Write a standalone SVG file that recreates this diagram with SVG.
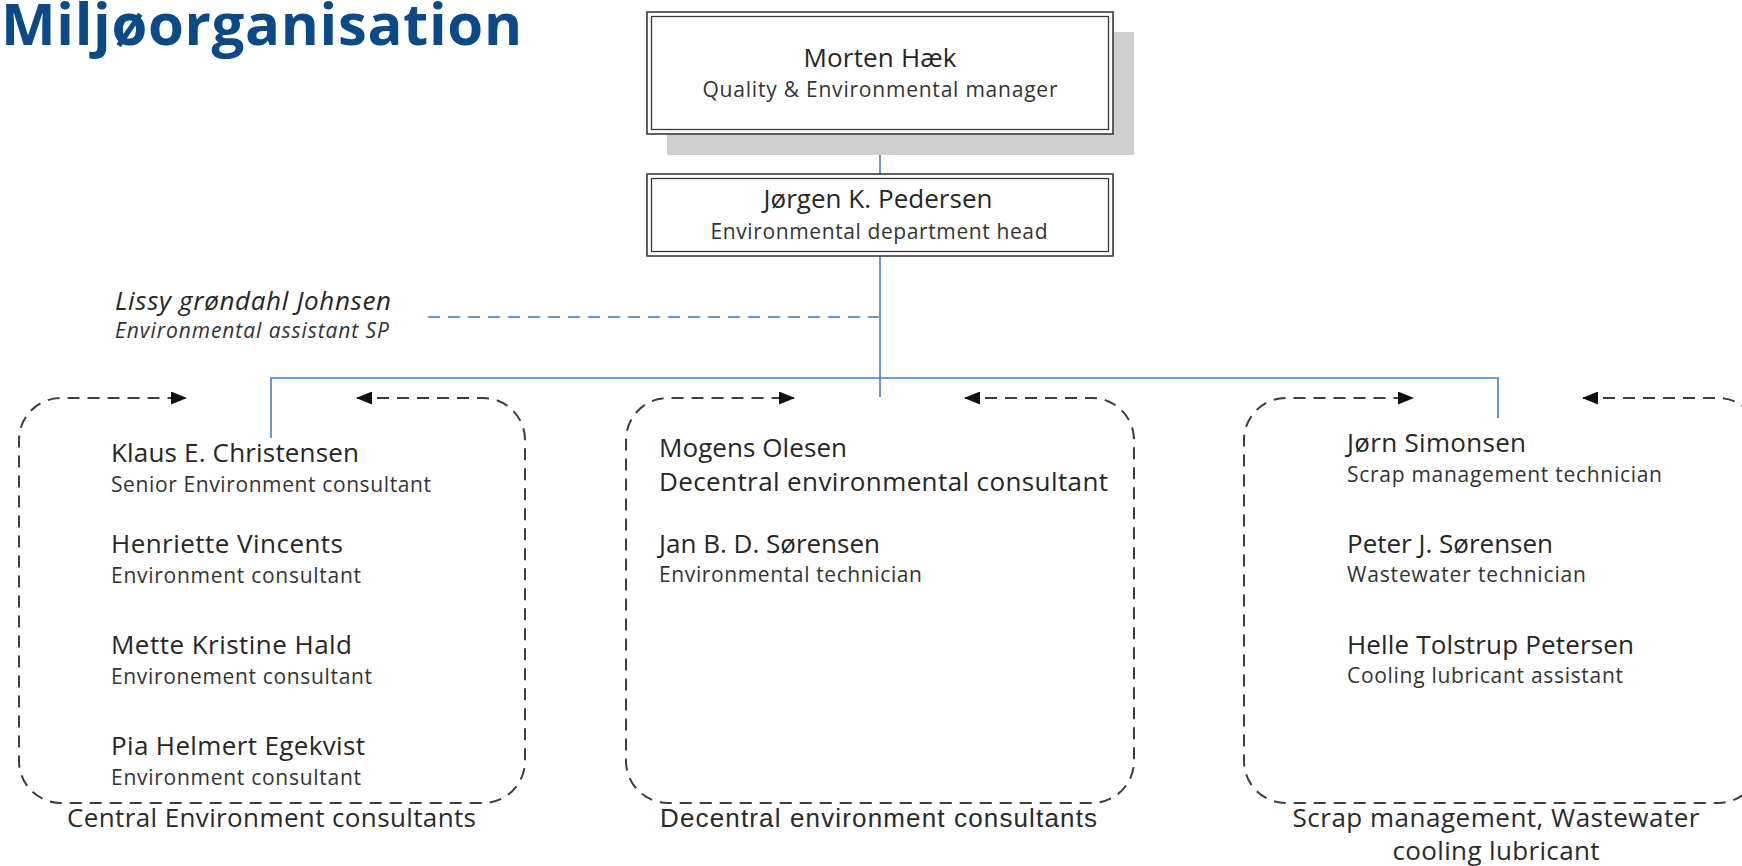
<svg xmlns="http://www.w3.org/2000/svg" width="1742" height="866" viewBox="0 0 1742 866">
<style>
text{font-family:"Open Sans","Noto Sans","Liberation Sans",sans-serif;fill:#262626}
.title{font-weight:bold;font-size:58px;fill:#0b4a87}
.nm{font-size:26px}
.rl{font-size:21px;fill:#333}
.it{font-style:italic}
.grp{font-size:26px;fill:#2a2a2a}
.arial{font-family:"Liberation Sans",Arial,sans-serif}
.frame{fill:#fff;stroke:#3a3a3a;stroke-width:1.6}
.inner{fill:none;stroke:#3a3a3a;stroke-width:1.3}
.dbox{fill:none;stroke:#3d3d3d;stroke-width:2;stroke-dasharray:12 8;marker-start:url(#ah);marker-end:url(#ah)}
.blue{fill:none;stroke:#4a7ebb;stroke-width:1.6}
.bdash{fill:none;stroke:#7098d0;stroke-width:2;stroke-dasharray:12 8}
</style>
<defs>
<marker id="ah" viewBox="0 0 16 13" refX="15" refY="6.5" markerWidth="16" markerHeight="13" markerUnits="userSpaceOnUse" orient="auto-start-reverse">
<path d="M0,0 L16,6.5 L0,13 z" fill="#111"/>
</marker>
</defs>
<rect width="1742" height="866" fill="#fff"/>
<text class="title" x="1" y="45" textLength="521">Miljøorganisation</text>

<g id="connectors">
<path class="blue" d="M880,134 V174"/>
<path class="blue" d="M880,256 V397"/>
<path class="blue" d="M271,438 V378 H1498 V418"/>
<path class="bdash" d="M428,317 H879"/>
</g>

<g id="morten">
<rect x="667" y="32" width="467" height="123" fill="#cfcfcf"/>
<rect class="frame" x="647" y="12" width="466" height="122"/>
<rect class="inner" x="651.5" y="16.5" width="457" height="113"/>
<text class="nm" x="880" y="67" text-anchor="middle" textLength="153">Morten Hæk</text>
<text class="rl" x="880" y="97" text-anchor="middle" textLength="355">Quality &amp; Environmental manager</text>
</g>

<g id="jorgen">
<rect class="frame" x="647" y="174" width="466" height="82"/>
<rect class="inner" x="651.5" y="178.5" width="457" height="73"/>
<text class="nm" x="878" y="208" text-anchor="middle" textLength="229">Jørgen K. Pedersen</text>
<text class="rl" x="879" y="239" text-anchor="middle" textLength="337">Environmental department head</text>
</g>

<g id="lissy">
<text class="nm it" x="115" y="310" textLength="276">Lissy grøndahl Johnsen</text>
<text class="rl it" x="115" y="338" textLength="274">Environmental assistant SP</text>
</g>

<g id="central">
<path class="dbox" d="M357,398 H483 A42,42 0 0 1 525,440 V761 A42,42 0 0 1 483,803 H61 A42,42 0 0 1 19,761 V440 A42,42 0 0 1 61,398 H186"/>
<text class="nm" x="111" y="462" textLength="248">Klaus E. Christensen</text>
<text class="rl" x="111" y="492" textLength="320">Senior Environment consultant</text>
<text class="nm" x="111" y="553" textLength="232">Henriette Vincents</text>
<text class="rl" x="111" y="583" textLength="250">Environment consultant</text>
<text class="nm" x="111" y="654" textLength="241">Mette Kristine Hald</text>
<text class="rl" x="111" y="684" textLength="261">Environement consultant</text>
<text class="nm" x="111" y="755" textLength="254">Pia Helmert Egekvist</text>
<text class="rl" x="111" y="785" textLength="250">Environment consultant</text>
<text class="grp" x="67" y="827" textLength="409">Central Environment consultants</text>
</g>

<g id="decentral">
<path class="dbox" d="M965,398 H1092 A42,42 0 0 1 1134,440 V761 A42,42 0 0 1 1092,803 H668 A42,42 0 0 1 626,761 V440 A42,42 0 0 1 668,398 H794"/>
<text class="nm" x="659" y="457" textLength="188">Mogens Olesen</text>
<text class="nm" x="659" y="491" textLength="449">Decentral environmental consultant</text>
<text class="nm" x="659" y="553" textLength="221">Jan B. D. Sørensen</text>
<text class="rl" x="659" y="582" textLength="263">Environmental technician</text>
<text class="grp arial" x="660" y="827" textLength="437">Decentral environment consultants</text>
</g>

<g id="scrap">
<path class="dbox" d="M1583,398 H1718 A42,42 0 0 1 1760,440 V761 A42,42 0 0 1 1718,803 H1286 A42,42 0 0 1 1244,761 V440 A42,42 0 0 1 1286,398 H1413"/>
<text class="nm" x="1347" y="452" textLength="179">Jørn Simonsen</text>
<text class="rl" x="1347" y="482" textLength="315">Scrap management technician</text>
<text class="nm" x="1347" y="553" textLength="206">Peter J. Sørensen</text>
<text class="rl" x="1347" y="582" textLength="239">Wastewater technician</text>
<text class="nm" x="1347" y="654" textLength="287">Helle Tolstrup Petersen</text>
<text class="rl" x="1347" y="683" textLength="276">Cooling lubricant assistant</text>
<text class="grp" x="1496" y="827" text-anchor="middle" textLength="407">Scrap management, Wastewater</text>
<text class="grp" x="1496" y="860" text-anchor="middle" textLength="207">cooling lubricant</text>
</g>
</svg>
